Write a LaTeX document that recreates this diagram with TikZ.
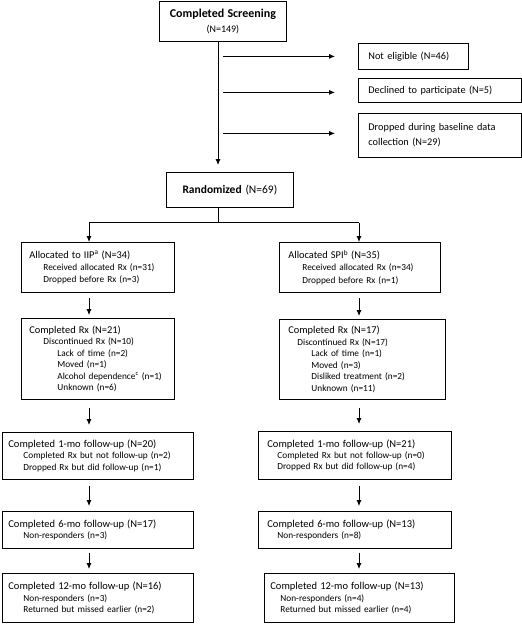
\documentclass[tikz,border=0pt]{standalone}
\usepackage{fontspec}
\setmainfont{Carlito}
\usetikzlibrary{arrows.meta,calc}
\tikzset{
  box/.style={draw=black, line width=0.8pt, anchor=north west, inner ysep=0pt, align=left,
              font=\fontsize{9.3}{12.2}\selectfont},
  arr/.style={line width=0.8pt, -{Latex[length=6pt,width=5pt]}},
  ln/.style={line width=0.8pt},
}
\newcommand{\ttl}[1]{{\fontsize{10.4}{12}\selectfont #1}}
\newcommand{\ttb}[1]{{\fontsize{10.5}{11.4}\selectfont #1}}
\newcommand{\ind}{\hspace*{14pt}}
\newcommand{\indd}{\hspace*{28pt}}
\begin{document}
\begin{tikzpicture}[x=1pt,y=-1pt]
\useasboundingbox (0,0) rectangle (522,624);
\coordinate (tk) at (218,0);
\coordinate (cl) at (89,0);
\coordinate (cr) at (359,0);

% top
\node[box, align=center, inner xsep=2pt, text width=123pt, minimum width=127pt, minimum height=40pt,
      font=\fontsize{10}{15}\selectfont] (screen) at (159,1)
  {{\fontsize{12}{15}\selectfont\bfseries Completed Screening}\\(N=149)};
\node[box, inner xsep=10pt, text width=90pt, minimum width=110pt, minimum height=26pt,
      font=\fontsize{10.3}{12}\selectfont] (ne) at (358,43) {Not eligible (N=46)};
\node[box, inner xsep=10pt, text width=143pt, minimum width=163pt, minimum height=24pt,
      font=\fontsize{10.3}{12}\selectfont] (dec) at (358,78) {Declined to participate (N=5)};
\node[box, inner xsep=10pt, text width=143pt, minimum width=163pt, minimum height=44pt,
      font=\fontsize{10.3}{15}\selectfont] (drop) at (358,113) {Dropped during baseline data\\collection (N=29)};
\node[box, align=center, inner xsep=2pt, text width=123pt, minimum width=127pt, minimum height=35pt,
      font=\fontsize{11.5}{13}\selectfont] (rand) at (166,172) {\textbf{Randomized} (N=69)};

% allocation
\node[box, inner xsep=8pt, text width=137pt, minimum width=153pt, minimum height=50pt] (iip) at (21,242)
  {\ttl{Allocated to IIP\textsuperscript{a} (N=34)}\\
   \ind Received allocated Rx (n=31)\\
   \ind Dropped before Rx (n=3)};
\node[box, inner xsep=9pt, text width=143pt, minimum width=161pt, minimum height=50pt] (spi) at (279,242)
  {\ttl{Allocated SPI\textsuperscript{b} (N=35)}\\
   \ind Received allocated Rx (n=34)\\
   \ind Dropped before Rx (n=1)};

% completed Rx
\node[box, inner xsep=8pt, text width=137pt, minimum width=153pt, minimum height=81pt,
      font=\fontsize{9.3}{11.5}\selectfont] (crxL) at (21,318)
  {\ttl{Completed Rx (N=21)}\\
   \ind Discontinued Rx (N=10)\\
   \indd Lack of time (n=2)\\
   \indd Moved (n=1)\\
   \indd Alcohol dependence\textsuperscript{c} (n=1)\\
   \indd Unknown (n=6)};
\node[box, inner xsep=9pt, text width=148pt, minimum width=166pt, minimum height=80pt,
      font=\fontsize{9.3}{11.5}\selectfont] (crxR) at (279,319)
  {\ttl{Completed Rx (N=17)}\\
   \hspace*{9pt}Discontinued Rx (N=17)\\
   \hspace*{23pt}Lack of time (n=1)\\
   \hspace*{23pt}Moved (n=3)\\
   \hspace*{23pt}Disliked treatment (n=2)\\
   \hspace*{23pt}Unknown (n=11)};

% 1-mo
\node[box, inner xsep=6pt, text width=179pt, minimum width=191pt, minimum height=47pt,
      font=\fontsize{9.3}{11.4}\selectfont] (m1L) at (2,432)
  {\ttb{Completed 1-mo follow-up (N=20)}\\
   \hspace*{15pt}Completed Rx but not follow-up (n=2)\\
   \hspace*{15pt}Dropped Rx but did follow-up (n=1)};
\node[box, inner xsep=9pt, text width=175pt, minimum width=193pt, minimum height=48pt,
      font=\fontsize{9.3}{11.4}\selectfont] (m1R) at (258,431)
  {\ttb{Completed 1-mo follow-up (N=21)}\\
   \hspace*{10pt}Completed Rx but not follow-up (n=0)\\
   \hspace*{10pt}Dropped Rx but did follow-up (n=4)};

% 6-mo
\node[box, inner xsep=6pt, text width=179pt, minimum width=191pt, minimum height=37pt,
      font=\fontsize{9.3}{11.4}\selectfont] (m6L) at (2,511)
  {\ttb{Completed 6-mo follow-up (N=17)}\\
   \hspace*{15pt}Non-responders (n=3)};
\node[box, inner xsep=9pt, text width=175pt, minimum width=193pt, minimum height=37pt,
      font=\fontsize{9.3}{11.4}\selectfont] (m6R) at (258,511)
  {\ttb{Completed 6-mo follow-up (N=13)}\\
   \hspace*{10pt}Non-responders (n=8)};

% 12-mo
\node[box, inner xsep=6pt, text width=179pt, minimum width=191pt, minimum height=49pt,
      font=\fontsize{9.3}{11.4}\selectfont] (m12L) at (2,573)
  {\ttb{Completed 12-mo follow-up (N=16)}\\
   \hspace*{15pt}Non-responders (n=3)\\
   \hspace*{15pt}Returned but missed earlier (n=2)};
\node[box, inner xsep=6pt, text width=178pt, minimum width=190pt, minimum height=49pt,
      font=\fontsize{9.3}{11.4}\selectfont] (m12R) at (264,573)
  {\ttb{Completed 12-mo follow-up (N=13)}\\
   \hspace*{10pt}Non-responders (n=4)\\
   \hspace*{10pt}Returned but missed earlier (n=4)};

% connectors
\draw[arr, shorten >=7pt] (screen.south -| tk) -- (rand.north -| tk);
\draw[arr, shorten >=23pt] ($(ne.west -| tk)+(5,0)$) -- (ne.west);
\draw[arr, shorten >=23pt] ($(dec.west -| tk)+(5,2)$) -- ($(dec.west)+(0,2)$);
\draw[arr, shorten >=23pt] ($(drop.west -| tk)+(5,-2)$) -- ($(drop.west)+(0,-2)$);

\draw[ln] (rand.south -| tk) -- ++(0,15) coordinate (sp);
\draw[ln] (sp -| cl) -- (sp -| cr);
\draw[arr] (sp -| cl) -- (iip.north -| cl);
\draw[arr] (sp -| cr) -- (spi.north -| cr);

\draw[arr, shorten <=5pt, shorten >=3pt] (iip.south -| cl) -- (crxL.north -| cl);
\draw[arr, shorten <=5pt, shorten >=3pt] (spi.south -| cr) -- (crxR.north -| cr);
\draw[arr, shorten <=8pt, shorten >=7pt] (crxL.south -| cl) -- (m1L.north -| cl);
\draw[arr, shorten <=8pt, shorten >=7pt] (crxR.south -| cr) -- (m1R.north -| cr);
\draw[arr, shorten <=6pt, shorten >=5pt] (m1L.south -| cl) -- (m6L.north -| cl);
\draw[arr, shorten <=6pt, shorten >=5pt] (m1R.south -| cr) -- (m6R.north -| cr);
\draw[arr, shorten <=4pt, shorten >=4pt] (m6L.south -| cl) -- (m12L.north -| cl);
\draw[arr, shorten <=4pt, shorten >=4pt] (m6R.south -| cr) -- (m12R.north -| cr);
\end{tikzpicture}
\end{document}
